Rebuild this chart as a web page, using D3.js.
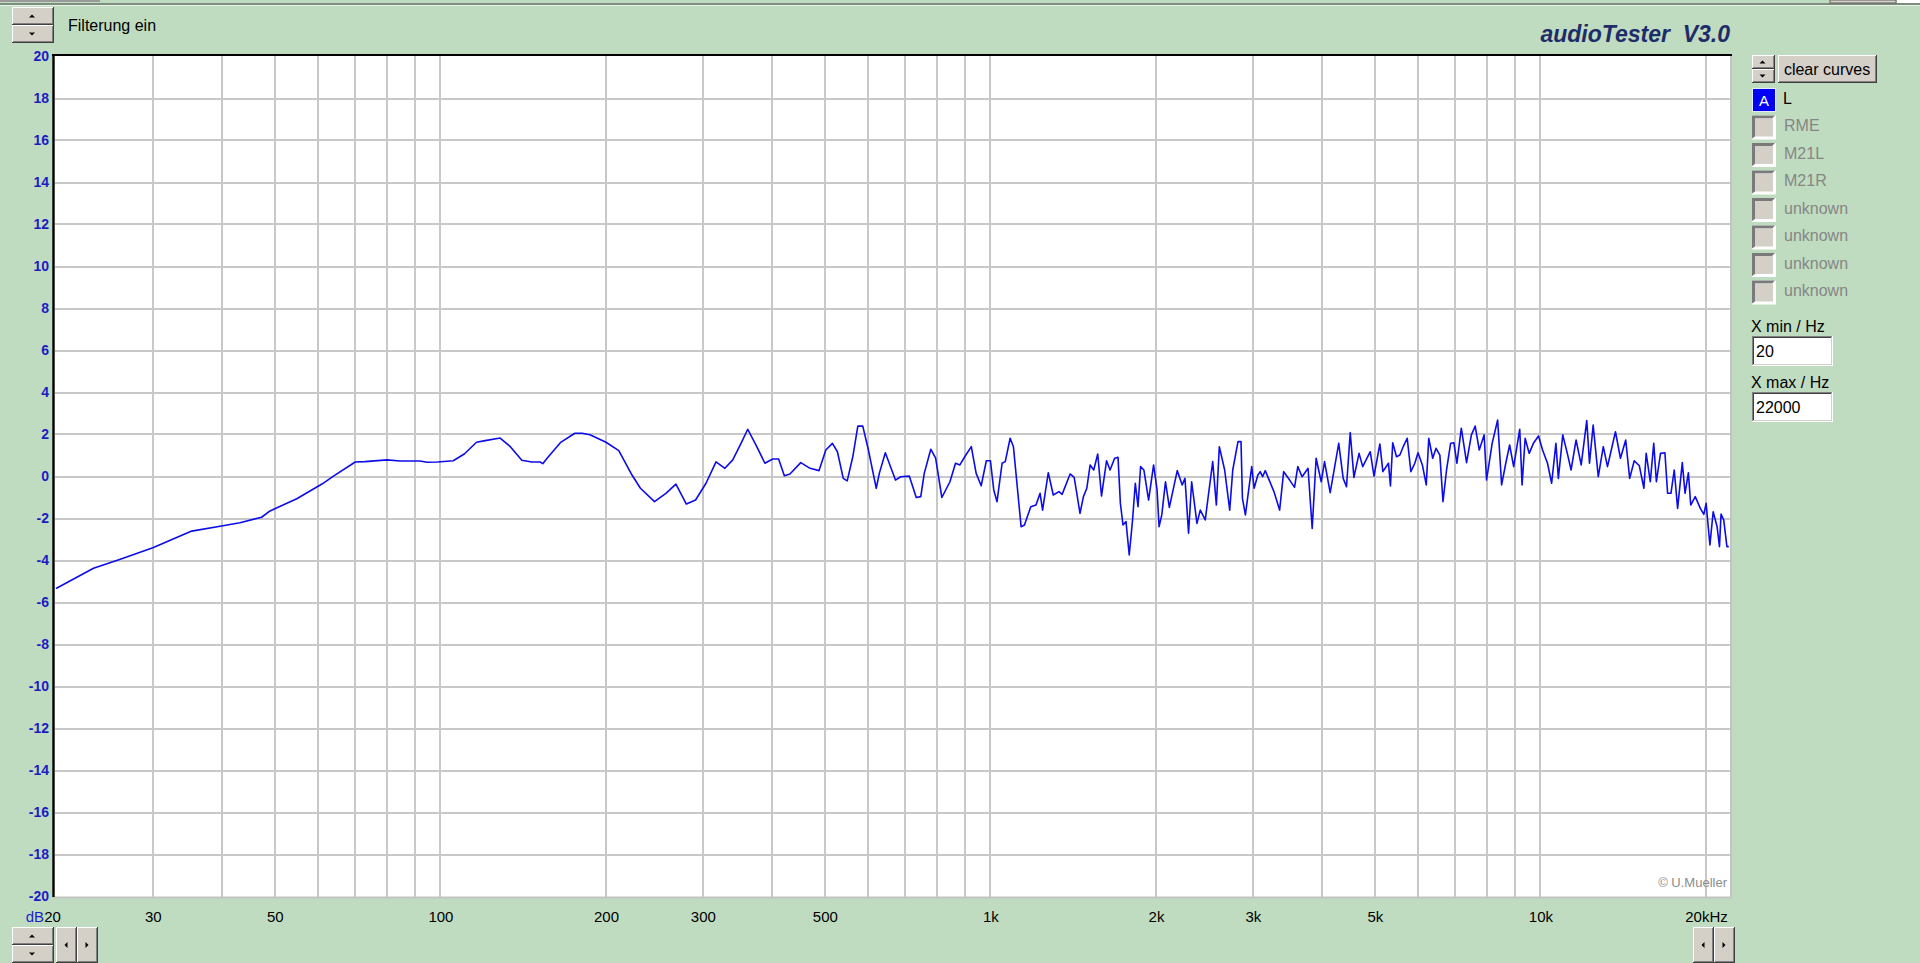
<!DOCTYPE html>
<html><head><meta charset="utf-8">
<script src="https://cdn.jsdelivr.net/npm/d3@7"></script>
<style>
html,body{margin:0;padding:0;background:#c0dcc0;overflow:hidden}
svg{display:block}
text{font-family:"Liberation Sans",Arial,sans-serif}
</style></head>
<body>
<svg id="chart" width="1920" height="963"></svg>
<script>
// ---------- data ----------
const freqHz = [
 20, 23.4, 26.1, 30, 35.3, 40, 43.2, 47.3, 49, 54.8,
 60.9, 63.9, 70, 72.9, 80, 84.4, 91.8, 94.6, 98.8, 105.5,
 110.5, 116.3, 120.6, 128.4, 134, 140.6, 146.6, 151.8, 153.5, 156.3,
 165.2, 175.5, 181, 187, 200, 211, 223, 231, 245, 257,
 268, 280, 291, 304, 317, 329, 340, 352, 362, 376,
 389, 402, 412, 422, 432, 452, 470, 488, 502, 516,
 527, 540, 549, 562, 574, 586, 600, 620, 628, 644,
 672, 687, 712, 733, 747, 758, 779, 795, 816, 844,
 864, 880, 898, 923, 942, 962, 983, 1000, 1014, 1028,
 1050, 1064, 1086, 1101, 1137, 1153, 1184, 1210, 1231, 1244,
 1274, 1301, 1332, 1350, 1396, 1420, 1455, 1476, 1497, 1518,
 1541, 1567, 1592, 1626, 1650, 1682, 1706, 1723, 1742, 1764,
 1788, 1813, 1834, 1855, 1875, 1901, 1939, 1980, 2009, 2026,
 2049, 2081, 2115, 2186, 2232, 2258, 2292, 2322, 2374, 2407,
 2458, 2484, 2536, 2575, 2607, 2666, 2723, 2758, 2819, 2855,
 2872, 2908, 2986, 3016, 3064, 3094, 3125, 3160, 3277, 3356,
 3413, 3500, 3572, 3621, 3687, 3780, 3846, 3910, 3994, 4050,
 4147, 4298, 4379, 4440, 4510, 4580, 4680, 4752, 4904, 4982,
 5106, 5170, 5293, 5337, 5388, 5474, 5552, 5630, 5725, 5813,
 5910, 5990, 6100, 6200, 6266, 6370, 6460, 6564, 6650, 6750,
 6866, 6960, 7050, 7180, 7340, 7490, 7610, 7740, 7900, 7980,
 8170, 8360, 8500, 8650, 8790, 8940, 9170, 9260, 9380, 9540,
 9710, 9920, 10090, 10300, 10480, 10670, 10780, 10980, 11210, 11370,
 11610, 11860, 12140, 12280, 12470, 12740, 13010, 13240, 13690, 13980,
 14290, 14530, 14810, 15130, 15420, 15570, 15840, 16070, 16250, 16530,
 16840, 17030, 17270, 17510, 17760, 18110, 18320, 18580, 18760, 19120,
 19530, 19820, 20010, 20330, 20610, 20950, 21160, 21300, 21540, 21830, 22000
];
const levelDb = [
 -5.33, -4.37, -3.95, -3.39, -2.60, -2.36, -2.2, -1.94, -1.64, -1.06,
 -0.36, 0.02, 0.69, 0.71, 0.79, 0.74, 0.74, 0.68, 0.69, 0.75,
 1.07, 1.63, 1.71, 1.83, 1.42, 0.77, 0.69, 0.69, 0.61, 0.87,
 1.61, 2.06, 2.06, 1.99, 1.63, 1.23, 0.07, -0.56, -1.2, -0.8,
 -0.36, -1.31, -1.12, -0.32, 0.7, 0.39, 0.79, 1.58, 2.25, 1.42,
 0.63, 0.83, 0.83, 0.04, 0.12, 0.66, 0.39, 0.28, 1.26, 1.58,
 1.18, -0.09, -0.21, 0.94, 2.4, 2.4, 1.26, -0.56, 0.15, 1.13,
 -0.17, -0.01, 0.02, -1.0, -0.96, 0.15, 1.3, 0.87, -1.0, -0.25,
 0.63, 0.55, 0.94, 1.42, 0.15, -0.44, 0.75, 0.75, -0.64, -1.2,
 0.63, 0.71, 1.82, 1.42, -2.39, -2.31, -1.44, -1.36, -0.8, -1.6,
 0.18, -0.88, -0.72, -0.85, 0.12, -0.04, -1.75, -0.96, -0.56, 0.55,
 0.31, 1.07, -0.93, 0.75, 0.31, 0.87, 0.91, -1.28, -2.31, -2.15,
 -3.74, -2.07, -0.32, -1.44, 0.47, 0.31, -1.12, 0.55, -0.64, -2.39,
 -1.83, -0.25, -1.47, 0.28, -0.4, -0.09, -2.7, -0.25, -2.23, -1.6,
 -2.07, -1.12, 0.71, -1.36, 1.42, 0.31, -1.6, 0.31, 1.66, 1.66,
 -1.04, -1.83, 0.47, -0.56, 0.07, 0.23, -0.01, 0.28, -0.72, -1.6,
 0.23, -0.17, -0.52, 0.47, -0.01, 0.39, -2.47, 0.87, -0.25, 0.71,
 -0.77, 1.58, -0.09, -0.49, 2.09, -0.04, 1.1, 0.47, 1.18, 0.02,
 1.55, 0.23, 0.63, -0.45, 1.61, 0.94, 1.02, 1.42, 1.82, 0.23,
 0.63, 1.13, 0.55, -0.4, 1.82, 0.87, 1.34, 1.02, -1.2, 0.31,
 1.58, 1.61, 0.63, 2.3, 0.66, 1.98, 2.4, 1.26, 1.98, -0.17,
 1.58, 2.69, -0.4, 0.63, 1.5, 0.47, 2.25, -0.4, 1.82, 1.1,
 1.58, 1.93, 1.26, 0.63, -0.32, 1.58, -0.09, 1.98, 1.02, 0.31,
 1.74, 0.55, 2.66, 0.63, 2.45, -0.01, 1.42, 0.47, 2.13, 0.87,
 1.74, -0.09, 0.75, 0.51, -0.56, 1.1, -0.25, 1.58, -0.25, 1.1,
 1.13, -0.8, -0.8, 0.31, -1.52, 0.66, -0.8, 0.18, -1.36, -0.96,
 -1.52, -1.8, -1.28, -3.26, -1.68, -2.39, -3.34, -1.79, -2.07, -3.34, -3.34
];
const yTicks = [-20,-18,-16,-14,-12,-10,-8,-6,-4,-2,0,2,4,6,8,10,12,14,16,18,20];
const xTickValues = [20,30,50,100,200,300,500,1000,2000,3000,5000,10000,20000];
const xTickLabels = ["20","30","50","100","200","300","500","1k","2k","3k","5k","10k","20kHz"];
const legendNames = ["L","RME","M21L","M21R","unknown","unknown","unknown","unknown"];
const xMinText = "20";
const xMaxText = "22000";

// ---------- setup ----------
const svg = d3.select("#chart");
const BG = "#c0dcc0";
svg.append("rect").attr("width",1920).attr("height",963).attr("fill",BG);

// top strip
svg.append("rect").attr("x",0).attr("y",0).attr("width",100).attr("height",2).attr("fill","#9a9a9a");
svg.append("rect").attr("x",0).attr("y",3).attr("width",1920).attr("height",2).attr("fill","#7e8e7e");
svg.append("rect").attr("x",0).attr("y",5).attr("width",1920).attr("height",1).attr("fill","#e8f4e8");
svg.append("rect").attr("x",1830).attr("y",0).attr("width",66).attr("height",3).attr("fill","#d4d0c8").attr("stroke","#606060").attr("stroke-width",1);
svg.append("rect").attr("x",1897).attr("y",0).attr("width",23).attr("height",3).attr("fill","#ffffff");

function raised(g,x,y,w,h){
  g.append("rect").attr("x",x).attr("y",y).attr("width",w).attr("height",h).attr("fill","#404040");
  g.append("rect").attr("x",x).attr("y",y).attr("width",w-1).attr("height",h-1).attr("fill","#ffffff");
  g.append("rect").attr("x",x+1).attr("y",y+1).attr("width",w-2).attr("height",h-2).attr("fill","#808080");
  g.append("rect").attr("x",x+1).attr("y",y+1).attr("width",w-3).attr("height",h-3).attr("fill","#d4d0c8");
}
function sunken(g,x,y,w,h,fill){
  g.append("rect").attr("x",x).attr("y",y).attr("width",w).attr("height",h).attr("fill","#ffffff");
  g.append("rect").attr("x",x).attr("y",y).attr("width",w-1).attr("height",h-1).attr("fill","#808080");
  g.append("rect").attr("x",x+1).attr("y",y+1).attr("width",w-2).attr("height",h-2).attr("fill","#d4d0c8");
  g.append("rect").attr("x",x+1).attr("y",y+1).attr("width",w-3).attr("height",h-3).attr("fill","#404040");
  g.append("rect").attr("x",x+2).attr("y",y+2).attr("width",w-4).attr("height",h-4).attr("fill",fill);
}
function tri(g,cx,cy,dir,s){
  s = s||3;
  let p;
  if(dir==="up") p=[[cx-s,cy+s/2],[cx+s,cy+s/2],[cx,cy-s/2]];
  else if(dir==="down") p=[[cx-s,cy-s/2],[cx+s,cy-s/2],[cx,cy+s/2]];
  else if(dir==="left") p=[[cx+s/2,cy-s],[cx+s/2,cy+s],[cx-s/2,cy]];
  else p=[[cx-s/2,cy-s],[cx-s/2,cy+s],[cx+s/2,cy]];
  g.append("path").attr("d","M"+p.map(q=>q.join(",")).join("L")+"Z").attr("fill","#000");
}
function spin(g,x,y,w,h){
  const h2=Math.floor(h/2);
  raised(g,x,y,w,h2); raised(g,x,y+h2,w,h-h2);
  tri(g,x+w/2-1,y+h2/2,"up",3);
  tri(g,x+w/2-1,y+h2+(h-h2)/2,"down",3);
}

const ui = svg.append("g");
// top-left spinner + label
spin(ui,12,7,42,36);
ui.append("text").attr("x",68).attr("y",30.5).attr("font-size",16).attr("fill","#000").text("Filterung ein");

// title
svg.append("text").attr("x",1730).attr("y",42).attr("text-anchor","end")
  .attr("font-size",23).attr("font-style","italic").attr("font-weight","bold")
  .attr("fill","#1e2c6a").text("audioTester\u00a0 V3.0");

// ---------- plot ----------
const x = d3.scaleLog().domain([20,22000]).range([56, 56+550*Math.log10(1100)]);
const y = d3.scaleLinear().domain([-20,20]).range([896.5,56.5]);

const plot = svg.append("g");
plot.append("rect").attr("x",54).attr("y",55).attr("width",1677).attr("height",842).attr("fill","#fff");

// grid
plot.append("g").selectAll("line").data(x.ticks().filter(t=>t>20))
  .join("line").attr("x1",d=>Math.round(x(d))).attr("x2",d=>Math.round(x(d)))
  .attr("y1",56).attr("y2",897).attr("stroke","#c8c8c8").attr("stroke-width",2);
plot.append("g").selectAll("line").data(yTicks.filter(t=>t>-20&&t<20))
  .join("line").attr("y1",d=>Math.round(y(d))).attr("y2",d=>Math.round(y(d)))
  .attr("x1",55).attr("x2",1731).attr("stroke","#c8c8c8").attr("stroke-width",2);

// borders
plot.append("line").attr("x1",1731).attr("x2",1731).attr("y1",55).attr("y2",898).attr("stroke","#c4c4c4").attr("stroke-width",2);
plot.append("line").attr("x1",53).attr("x2",1732).attr("y1",897.5).attr("y2",897.5).attr("stroke","#c4c4c4").attr("stroke-width",2);
plot.append("line").attr("x1",52).attr("x2",1732).attr("y1",55).attr("y2",55).attr("stroke","#000").attr("stroke-width",2.2);
plot.append("line").attr("x1",53.5).attr("x2",53.5).attr("y1",54).attr("y2",897).attr("stroke","#000").attr("stroke-width",2.4);

// copyright
plot.append("text").attr("x",1727).attr("y",887).attr("text-anchor","end")
  .attr("font-size",13).attr("fill","#8c8c8c").text("\u00a9 U.Mueller");

// curve
const pts = freqHz.map((f,i)=>({f, v:levelDb[i]}));
const line = d3.line().x(d=>x(d.f)).y(d=>y(d.v));
plot.append("path").datum(pts).attr("d",line).attr("fill","none")
  .attr("stroke","#0c0ce8").attr("stroke-width",1.6).attr("stroke-linejoin","round");

// y axis
const yAxis = svg.append("g").attr("transform","translate(54,0)")
  .call(d3.axisLeft(y).tickValues(yTicks).tickSize(0).tickPadding(5).tickFormat(d=>String(d)));
yAxis.select(".domain").remove();
yAxis.selectAll("text").attr("font-family","Liberation Sans, Arial, sans-serif")
  .attr("font-size",14).attr("font-weight","bold").attr("fill","#1c1cc4");

// x axis
const xAxis = svg.append("g").attr("transform","translate(0,897)")
  .call(d3.axisBottom(x).tickValues(xTickValues).tickSize(0).tickPadding(14)
    .tickFormat((d,i)=>xTickLabels[i]));
xAxis.select(".domain").remove();
xAxis.selectAll("text").attr("font-family","Liberation Sans, Arial, sans-serif")
  .attr("font-size",15).attr("fill","#000");
xAxis.selectAll(".tick").filter(d=>d===20).select("text").attr("dx",-4);
svg.append("text").attr("x",44).attr("y",921.5).attr("text-anchor","end")
  .attr("font-size",15).attr("fill","#1c1cc4").text("dB");

// bottom controls
spin(ui,12,927,42,36);
raised(ui,56,927,21,36); tri(ui,66,945,"left",3);
raised(ui,77,927,21,36); tri(ui,87,945,"right",3);
raised(ui,1693,927,21,36); tri(ui,1703,945,"left",3);
raised(ui,1714,927,21,36); tri(ui,1724,945,"right",3);

// ---------- right panel ----------
spin(ui,1752,55,23,28);
raised(ui,1778,55,99,28);
ui.append("text").attr("x",1827).attr("y",74.5).attr("text-anchor","middle")
  .attr("font-size",16).attr("fill","#000").text("clear curves");

const leg = svg.append("g");
legendNames.forEach((name,i)=>{
  const by = 88 + i*27.5;
  if(i===0){
    leg.append("rect").attr("x",1752).attr("y",by).attr("width",24).attr("height",24).attr("fill","#e8e8f8");
    leg.append("rect").attr("x",1753).attr("y",by+1).attr("width",22).attr("height",22).attr("fill","#0000f4");
    leg.append("text").attr("x",1764).attr("y",by+18).attr("text-anchor","middle")
      .attr("font-size",15).attr("fill","#fff").text("A");
    leg.append("text").attr("x",1783).attr("y",by+16).attr("font-size",16).attr("fill","#000").text(name);
  } else {
    leg.append("rect").attr("x",1752).attr("y",by).attr("width",24).attr("height",24).attr("fill","#ffffff");
    leg.append("path").attr("d",`M1752,${by}H1775L1772,${by+3}H1755V${by+21}L1752,${by+23}Z`).attr("fill","#7a7a7a");
    leg.append("rect").attr("x",1755).attr("y",by+3).attr("width",18).attr("height",18).attr("fill","#d4d0c8");
    leg.append("text").attr("x",1784).attr("y",by+15.5).attr("font-size",16).attr("fill","#868686").text(name);
  }
});

ui.append("text").attr("x",1751).attr("y",332).attr("font-size",16).attr("fill","#000").text("X min / Hz");
sunken(ui,1752,336,81,30,"#ffffff");
ui.append("text").attr("x",1756).attr("y",357).attr("font-size",16).attr("fill","#000").text(xMinText);
ui.append("text").attr("x",1751).attr("y",388).attr("font-size",16).attr("fill","#000").text("X max / Hz");
sunken(ui,1752,392,81,30,"#ffffff");
ui.append("text").attr("x",1756).attr("y",413).attr("font-size",16).attr("fill","#000").text(xMaxText);
</script>
</body></html>
